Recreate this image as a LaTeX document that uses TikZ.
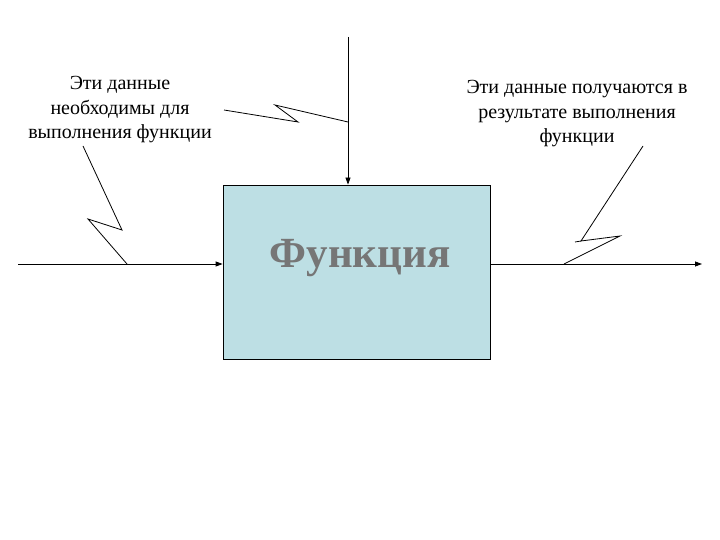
\documentclass[tikz,border=0pt]{standalone}
\usepackage{fontspec}
\setmainfont{Liberation Serif}
\usetikzlibrary{positioning,arrows.meta}
\definecolor{boxblue}{RGB}{189,223,228}
\definecolor{titlegray}{RGB}{118,118,118}

\begin{document}
\begin{tikzpicture}[x=1pt,y=-1pt,
    line width=0.8pt,
    func/.style={rectangle, draw, fill=boxblue, minimum width=267pt, minimum height=174pt},
    note/.style={align=center, font=\fontsize{20}{24.5}\selectfont},
    arr/.style={-{Triangle[length=7pt,width=5pt]}}
    ]
\useasboundingbox (0,0) rectangle (720,540);

\node[func] (F) at (356.5,272) {};
\node[text=titlegray, font=\fontsize{43}{43}\bfseries] (T) at (360,258) {Функция};

\node[note] (A) at (120,110) {Эти данные\\необходимы для\\выполнения функции};
\node[note] (B) at (577,114) {Эти данные получаются в\\результате выполнения\\функции};

\coordinate (I) at (18,264);
\coordinate (O) at (702,264);
\coordinate (C) at (348,37);

\draw[arr] (I) -- (I -| F.west);
\draw[arr] (O -| F.east) -- (O);
\draw[arr] (C) -- (C |- F.north);

% squiggles
\coordinate (a1) at (83,146);
\coordinate (a2) at (122,230);
\coordinate (a3) at (88,219);
\coordinate (a4) at (127,264);
\draw (a1) -- (a2) -- (a3) -- (a4);

\coordinate (c1) at (224,110);
\coordinate (c2) at (298,122);
\coordinate (c3) at (275,105);
\coordinate (c4) at (348,122);
\draw (c1) -- (c2) -- (c3) -- (c4);

\coordinate (b1) at (643,146);
\coordinate (b2) at (581,241);
\coordinate (b3) at (620,236);
\coordinate (b4) at (564,264);
\coordinate (b0) at (575,242);
\draw (b1) -- (b2) -- (b3) -- (b4);
\draw (b0) -- (b2);
\end{tikzpicture}
\end{document}
